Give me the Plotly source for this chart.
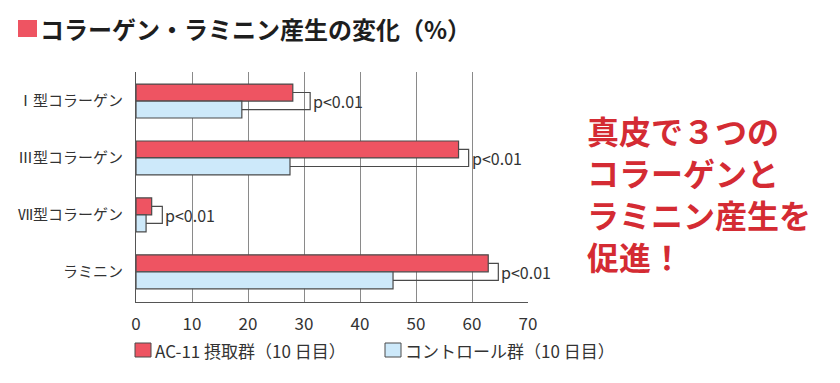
import plotly.graph_objects as go

categories = ["Ⅰ型コラーゲン", "Ⅲ型コラーゲン", "Ⅶ型コラーゲン", "ラミニン"]
ac11_values = [28.0, 57.6, 2.8, 62.9]
control_values = [18.9, 27.5, 1.8, 45.9]
bracket_x = [31.1, 59.4, 4.7, 64.7]
sig_labels = ["p<0.01", "p<0.01", "p<0.01", "p<0.01"]
x_ticks = [0, 10, 20, 30, 40, 50, 60, 70]
series_names = ["AC-11 摂取群（10 日目）", "コントロール群（10 日目）"]

RED = "#EE5462"
BLUE = "#CDE9FA"
EDGE = "#4A4A4A"
FONT = "Noto Sans CJK JP"

# page body has an 8px default margin; compensate so the figure fills the 840x383 window
OFF = 8
W, H = 840 - OFF, 383 - OFF
L, T = 136 - OFF, 72 - OFF
R = W - (528 - OFF)
B = H - (302 - OFF)

fig = go.Figure()
fig.add_trace(go.Bar(y=categories, x=ac11_values, orientation="h", name=series_names[0],
                     marker=dict(color=RED, line=dict(color=EDGE, width=1.2)), showlegend=False))
fig.add_trace(go.Bar(y=categories, x=control_values, orientation="h", name=series_names[1],
                     marker=dict(color=BLUE, line=dict(color=EDGE, width=1.2)), showlegend=False))

shapes = []
annotations = []
off = 0.15
for i, (a, c, bx, s) in enumerate(zip(ac11_values, control_values, bracket_x, sig_labels)):
    y1 = i - off
    y2 = i + off
    shapes.append(dict(type="path", xref="x", yref="y",
                       path=f"M {a},{y1} L {bx},{y1} L {bx},{y2} L {c},{y2}",
                       line=dict(color=EDGE, width=1.2)))
    annotations.append(dict(x=bx, y=i, xref="x", yref="y", text=s, showarrow=False,
                            xanchor="left", yanchor="middle", xshift=1,
                            font=dict(family=FONT, size=16, color="#333333")))


def px_x(p):
    return (p - OFF - L) / (W - L - R)


def px_y(p):
    return (H - B - (p - OFF)) / (H - T - B)


# Title
shapes.append(dict(type="rect", xref="paper", yref="paper",
                   x0=px_x(18), x1=px_x(37), y0=px_y(37), y1=px_y(20),
                   fillcolor=RED, line=dict(width=0)))
annotations.append(dict(x=px_x(38), y=px_y(29), xref="paper", yref="paper",
                        xanchor="left", yanchor="middle",
                        text="<b>コラーゲン・ラミニン産生の変化（%）</b>", showarrow=False,
                        font=dict(family=FONT, size=24, color="#1E1E1E")))

# Legend (manual)
for x0, col, name in [(135, RED, series_names[0]), (385, BLUE, series_names[1])]:
    shapes.append(dict(type="rect", xref="paper", yref="paper",
                       x0=px_x(x0), x1=px_x(x0 + 16), y0=px_y(357), y1=px_y(343),
                       fillcolor=col, line=dict(color=EDGE, width=1)))
    annotations.append(dict(x=px_x(x0 + 18), y=px_y(350), xref="paper", yref="paper",
                            xanchor="left", yanchor="middle", text=name, showarrow=False,
                            font=dict(family=FONT, size=17, color="#333333")))

# Right-side message
msg_lines = ["真皮で３つの", "コラーゲンと", "ラミニン産生を", "促進！"]
for k, line in enumerate(msg_lines):
    annotations.append(dict(x=px_x(585), y=px_y(130 + 42 * k), xref="paper", yref="paper",
                            xanchor="left", yanchor="middle", text=f"<b>{line}</b>", showarrow=False,
                            font=dict(family=FONT, size=32, color="#D42B33")))

fig.update_layout(
    width=W, height=H,
    margin=dict(l=L, r=R, t=T, b=B, pad=0, autoexpand=False),
    paper_bgcolor="white", plot_bgcolor="white",
    barmode="group", bargap=0.404, bargroupgap=0,
    shapes=shapes, annotations=annotations,
    font=dict(family=FONT, color="#333333"),
    xaxis=dict(range=[0, 70], tickvals=x_ticks, showgrid=True, gridcolor="#8A8A8A", gridwidth=1,
               zeroline=False, showline=True, linecolor="#555555", linewidth=1.2, automargin=False,
               ticks="", tickfont=dict(family=FONT, size=17, color="#333333"), ticklabelstandoff=6),
    yaxis=dict(range=[3.53, -0.51], type="category", showgrid=False, zeroline=False, automargin=False,
               showline=True, linecolor="#555555", linewidth=1.2, ticks="",
               tickfont=dict(family=FONT, size=15, color="#333333"), ticklabelstandoff=9),
)

fig.write_html("out.html")
